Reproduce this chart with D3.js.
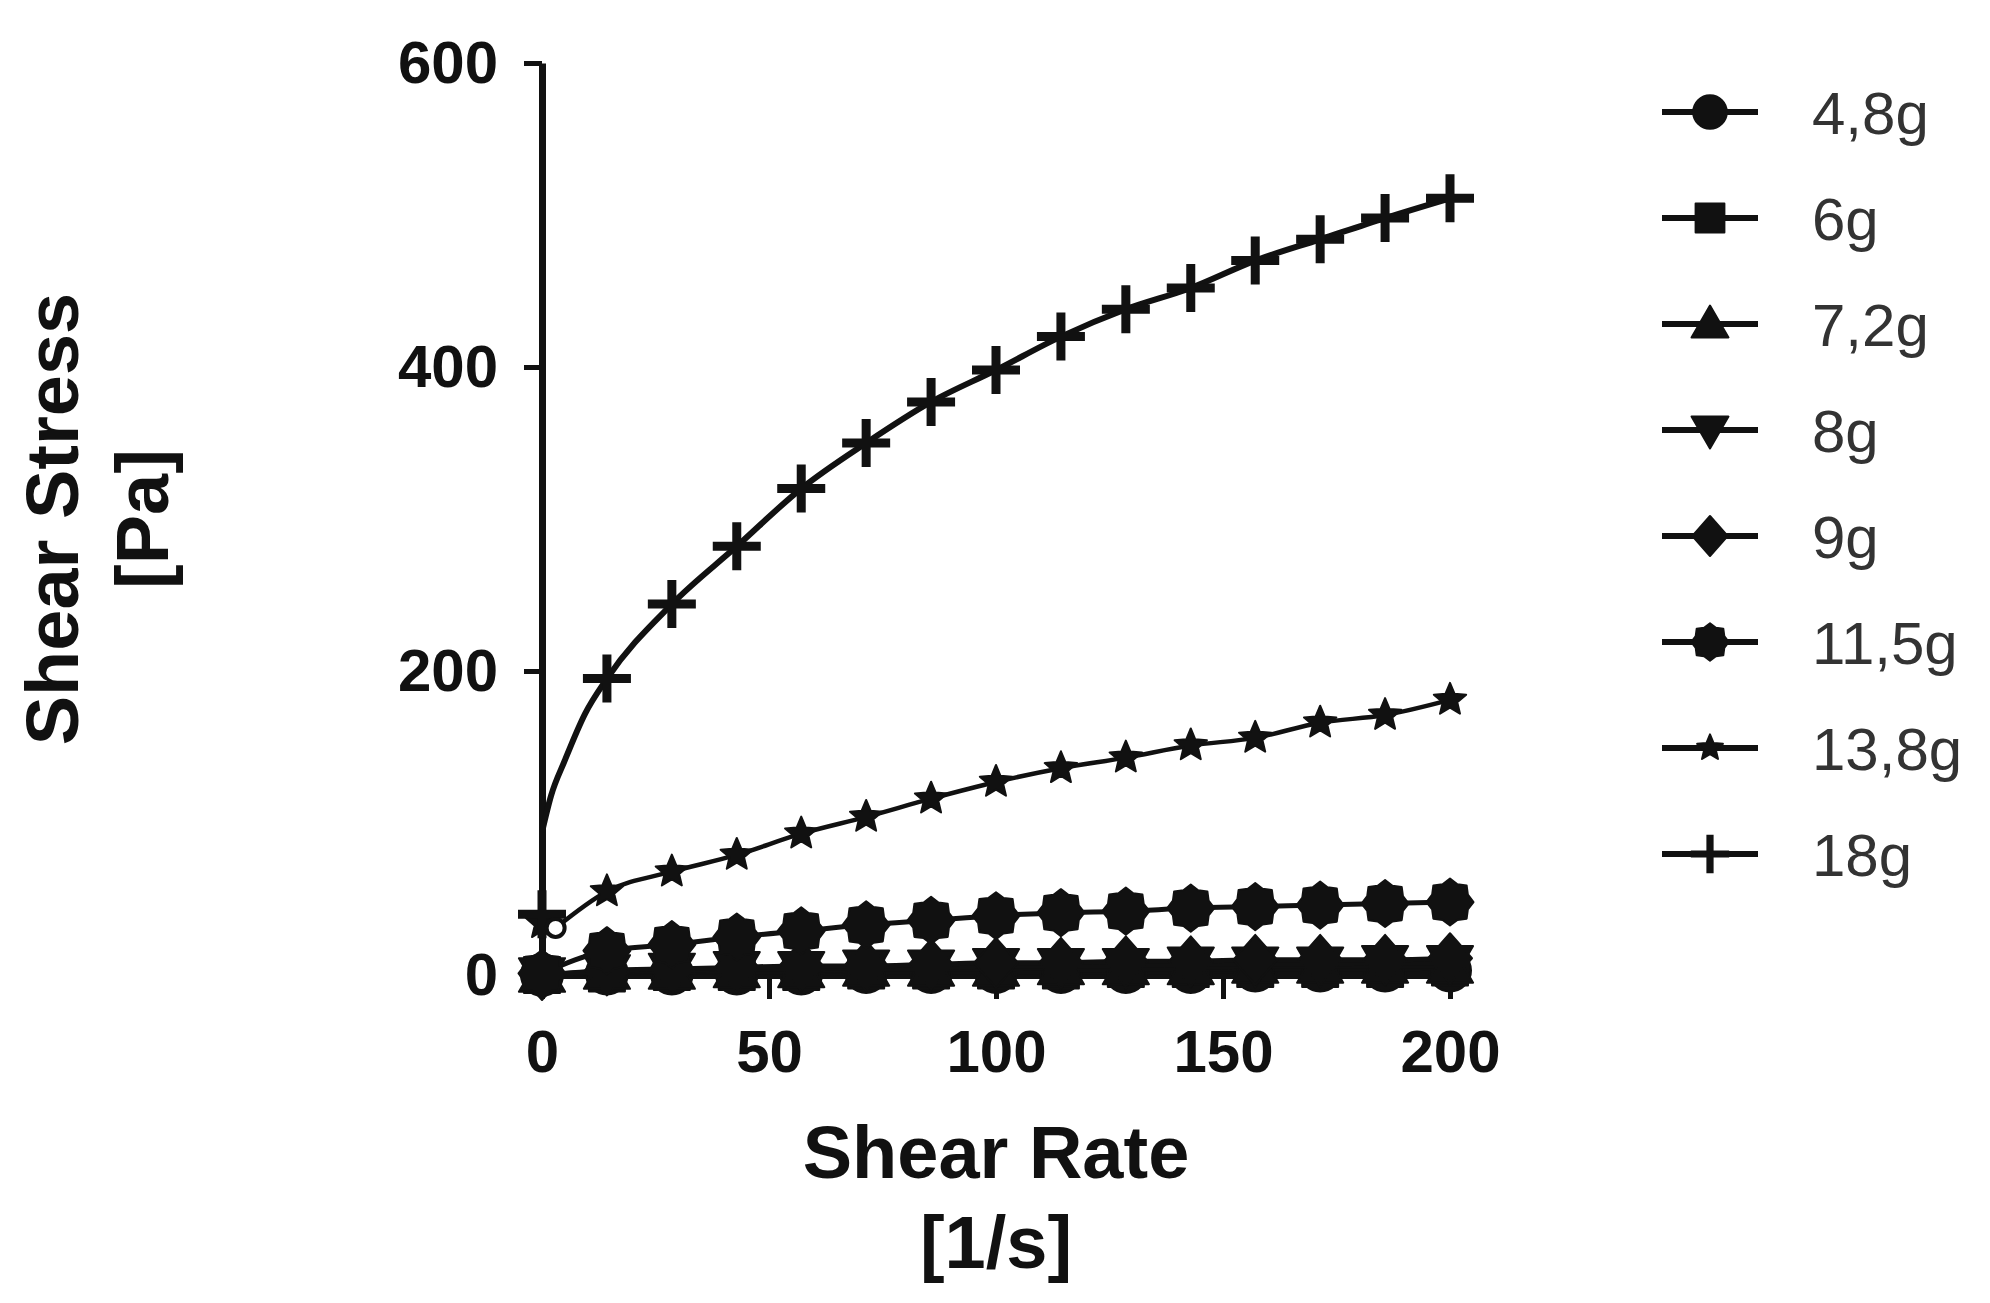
<!DOCTYPE html>
<html>
<head>
<meta charset="utf-8">
<script src="https://cdn.jsdelivr.net/npm/d3@7"></script>
<style>
  html, body { margin: 0; padding: 0; background: #fff; }
  svg { display: block; }
</style>
</head>
<body>
<svg id="chart" width="1990" height="1303"></svg>
<script>
// data
var shearRate = [0, 14.3, 28.6, 42.9, 57.1, 71.4, 85.7, 100, 114.3, 128.6, 142.9, 157.1, 171.4, 185.7, 200];
var seriesNames = ["4,8g", "6g", "7,2g", "8g", "9g", "11,5g", "13,8g", "18g"];
var stress4_8 = [0, 1, 1, 1, 1, 2, 2, 2, 2, 2, 2, 3, 3, 3, 3];
var stress6 = [0, 1, 2, 2, 2, 3, 3, 3, 3, 4, 4, 4, 4, 4, 5];
var stress7_2 = [0, 2, 2, 3, 3, 4, 4, 4, 5, 5, 5, 6, 6, 6, 6];
var stress8 = [0, 2, 3, 4, 4, 5, 5, 6, 6, 6, 7, 7, 7, 8, 8];
var stress9 = [0, 3, 4, 5, 6, 6, 7, 8, 8, 9, 9, 10, 10, 10, 11];
var stress11_5 = [1, 16, 20, 25, 29, 33, 36, 39, 41, 42, 44, 45, 46, 47, 48];
var stress13_8 = [34, 55, 68, 79, 93, 104, 116, 127, 136, 143, 151, 156, 166, 171, 181];
var stress18 = [40, 195, 244, 282, 320, 350, 377, 398, 420, 438, 452, 470, 484, 498, 511];
// start of the fitted curves near the origin (these lines do not pass the x=0 points)
var fitStartX18 = [0, 2, 5, 9.5];
var fitStartY18 = [94, 118, 141, 172];
var fitStartX13_8 = [3];
var fitStartY13_8 = [31];
var xTicks = [0, 50, 100, 150, 200];
var yTicks = [0, 200, 400, 600];

var svg = d3.select("#chart");
var x = d3.scaleLinear().domain([0, 200]).range([542, 1450]);
var y = d3.scaleLinear().domain([0, 600]).range([975, 63]);
var fontFam = "'Liberation Sans', Arial, sans-serif";

// marker shapes (Prism style)
function shapePath(kind, r) {
	var p = d3.path();
	var i, a;
	switch (kind) {
		case "circle":
			p.arc(0, 0, r, 0, 2 * Math.PI);
			break;
		case "square":
			p.rect(-r * 0.9, -r * 0.9, r * 1.8, r * 1.8);
			break;
		case "up":
			p.moveTo(0, -r * 1.1); p.lineTo(r * 1.1, r * 0.8); p.lineTo(-r * 1.1, r * 0.8); p.closePath();
			break;
		case "down":
			p.moveTo(0, r * 1.1); p.lineTo(r * 1.1, -r * 0.8); p.lineTo(-r * 1.1, -r * 0.8); p.closePath();
			break;
		case "diamond":
			p.moveTo(0, -r * 1.25); p.lineTo(r * 1.1, 0); p.lineTo(0, r * 1.25); p.lineTo(-r * 1.1, 0); p.closePath();
			break;
		case "burst":
			for (i = 0; i < 16; i++) {
				a = i * Math.PI / 8 - Math.PI / 2;
				var rr = (i % 2 == 0) ? r * 1.12 : r * 0.92;
				if (i == 0) p.moveTo(rr * Math.cos(a), rr * Math.sin(a));
				else p.lineTo(rr * Math.cos(a), rr * Math.sin(a));
			}
			p.closePath();
			break;
		case "star":
			for (i = 0; i < 10; i++) {
				a = i * Math.PI / 5 - Math.PI / 2;
				var rs = (i % 2 == 0) ? r : r * 0.45;
				if (i == 0) p.moveTo(rs * Math.cos(a), rs * Math.sin(a));
				else p.lineTo(rs * Math.cos(a), rs * Math.sin(a));
			}
			p.closePath();
			break;
	}
	return p.toString();
}

var series = [
	{ name: seriesNames[0], vals: stress4_8, shape: "circle", r: 21, lw: 5 },
	{ name: seriesNames[1], vals: stress6, shape: "square", r: 20, lw: 5 },
	{ name: seriesNames[2], vals: stress7_2, shape: "up", r: 21, lw: 5 },
	{ name: seriesNames[3], vals: stress8, shape: "down", r: 21, lw: 5 },
	{ name: seriesNames[4], vals: stress9, shape: "diamond", r: 20, lw: 5 },
	{ name: seriesNames[5], vals: stress11_5, shape: "burst", r: 21, lw: 5 },
	{ name: seriesNames[6], vals: stress13_8, shape: "star", r: 17, lw: 4.5,
		startX: fitStartX13_8, startY: fitStartY13_8 },
	{ name: seriesNames[7], vals: stress18, shape: "plus", r: 24, lw: 6,
		startX: fitStartX18, startY: fitStartY18 }
];

var line = d3.line()
	.x(function(d) { return x(d[0]); })
	.y(function(d) { return y(d[1]); })
	.curve(d3.curveMonotoneX);

// axes
var yAxis = d3.axisLeft(y).tickValues(yTicks).tickSize(18).tickSizeOuter(0).tickPadding(26);
var xAxis = d3.axisBottom(x).tickValues(xTicks).tickSize(24).tickSizeOuter(0).tickPadding(30);

var gy = svg.append("g").attr("transform", "translate(" + x(0) + ",0)").call(yAxis);
var gx = svg.append("g").attr("transform", "translate(0," + y(0) + ")").call(xAxis);
[gx, gy].forEach(function(g) {
	g.selectAll("path.domain").attr("stroke", "#111").attr("stroke-width", 7);
	g.selectAll(".tick line").attr("stroke", "#111").attr("stroke-width", 5);
	g.selectAll(".tick text")
		.attr("fill", "#111")
		.style("font-family", fontFam)
		.style("font-weight", "bold")
		.style("font-size", "60px");
});

function drawMarker(sel, s, k) {
	if (s.shape == "plus") {
		var r = s.r * k;
		sel.append("path")
			.attr("d", "M" + (-r) + ",0H" + r + "M0," + (-r) + "V" + r)
			.attr("stroke", "#111")
			.attr("stroke-width", 9 * k)
			.attr("fill", "none");
	} else {
		sel.append("path")
			.attr("d", shapePath(s.shape, s.r * k))
			.attr("fill", "#111")
			.attr("stroke", "#111")
			.attr("stroke-width", 2)
			.attr("stroke-linejoin", "round");
	}
}

// lines and markers
series.forEach(function(s) {
	var pts = shearRate.map(function(v, i) { return [v, s.vals[i]]; });
	var linePts = pts;
	if (s.startX) {
		var head = s.startX.map(function(v, i) { return [v, s.startY[i]]; });
		linePts = head.concat(pts.slice(1));
	}
	svg.append("path")
		.datum(linePts)
		.attr("d", line)
		.attr("fill", "none")
		.attr("stroke", "#111")
		.attr("stroke-width", s.lw);

	var g = svg.append("g");
	var m = g.selectAll("g.pt").data(pts).enter().append("g")
		.attr("class", "pt")
		.attr("transform", function(d) { return "translate(" + x(d[0]) + "," + y(d[1]) + ")"; });
	drawMarker(m, s, 1);
});

// open point at the start of the 13,8g curve
svg.append("circle")
	.attr("cx", x(fitStartX13_8[0]))
	.attr("cy", y(fitStartY13_8[0]))
	.attr("r", 9)
	.attr("fill", "#fff")
	.attr("stroke", "#111")
	.attr("stroke-width", 4);

// axis titles
var xTitle = svg.append("text")
	.attr("x", x(100))
	.attr("text-anchor", "middle")
	.attr("fill", "#111")
	.style("font-family", fontFam)
	.style("font-weight", "bold")
	.style("font-size", "74px");
xTitle.append("tspan").attr("x", x(100)).attr("y", 1178).text("Shear Rate");
xTitle.append("tspan").attr("x", x(100)).attr("y", 1268).text("[1/s]");

var yMid = (y(0) + y(600)) / 2;
var yTitle = svg.append("text")
	.attr("transform", "rotate(-90)")
	.attr("text-anchor", "middle")
	.attr("fill", "#111")
	.style("font-family", fontFam)
	.style("font-weight", "bold")
	.style("font-size", "74px");
yTitle.append("tspan").attr("x", -yMid).attr("y", 78).text("Shear Stress");
yTitle.append("tspan").attr("x", -yMid).attr("y", 168).text("[Pa]");

// legend
var ly = d3.scalePoint().domain(seriesNames).range([112, 854]);
var lg = svg.append("g");
series.forEach(function(s) {
	var row = lg.append("g").attr("transform", "translate(0," + ly(s.name) + ")");
	row.append("line")
		.attr("x1", 1662).attr("x2", 1758)
		.attr("stroke", "#111")
		.attr("stroke-width", 6);
	var m = row.append("g").attr("transform", "translate(1710,0)");
	drawMarker(m, s, 0.8);
	row.append("text")
		.attr("x", 1812)
		.attr("dy", "0.36em")
		.attr("fill", "#333")
		.style("font-family", fontFam)
		.style("font-size", "60px")
		.text(s.name);
});
</script>
</body>
</html>
